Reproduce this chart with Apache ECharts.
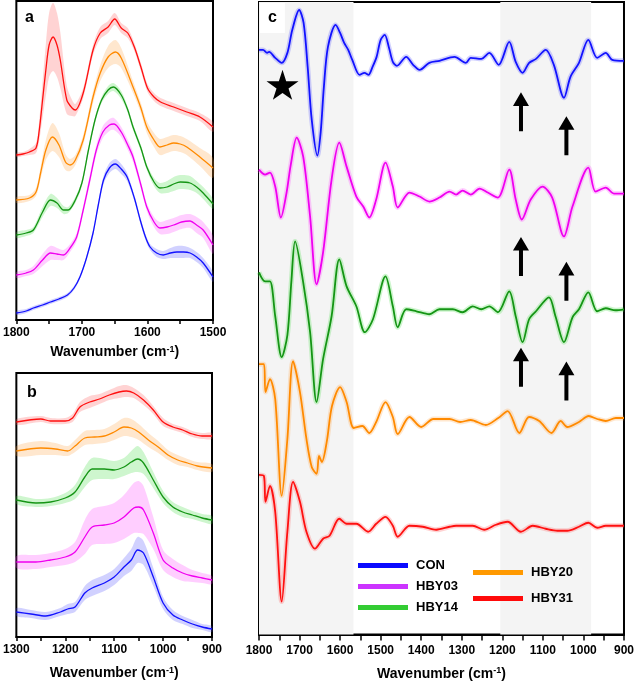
<!DOCTYPE html>
<html>
<head>
<meta charset="utf-8">
<script src="https://cdn.jsdelivr.net/npm/echarts@6/dist/echarts.min.js"></script>
<style>
  html, body { margin: 0; padding: 0; background: #fff; }
  #chart { width: 637px; height: 686px; }
</style>
</head>
<body>
<div id="chart"></div>
<script>
  // sample names / colours (CON, HBY03, HBY14, HBY20, HBY31)
  var names = ['CON', 'HBY03', 'HBY14', 'HBY20', 'HBY31']
  var lineColors = ['#1212ff', '#f000f0', '#159515', '#ff8a00', '#ff1010']
  var bandColors = ['rgba(70,70,255,0.25)', 'rgba(255,60,255,0.25)', 'rgba(60,220,60,0.25)', 'rgba(255,160,60,0.25)', 'rgba(255,80,80,0.25)']
  var legendColors = ['#0a0aff', '#cc33ff', '#33cc33', '#ff9900', '#ff0a0a']

  // panel a: 1800-1500 cm-1, [wavenumber, offset absorbance, sd]
  var aCon = [[1800,7,2],[1785,9,2],[1774,12,2],[1760,15,2],[1748,18,2],[1735,21,2],[1722,25,2],[1712,32,2],[1703,43,2],[1693,62,2],[1683,87,3],[1675,115,3],[1667,140,4],[1658,152,5],[1649,156,5],[1640,151,5],[1631,143,4],[1620,122,3],[1611,100,3],[1603,83,3],[1596,73,3],[1586,67,4],[1576,65,4],[1565,67,5],[1555,68,6],[1545,68,6],[1535,67,5],[1525,63,5],[1515,57,5],[1500,43,5]]
  var aHby03 = [[1800,45,3],[1785,47,3],[1774,50,4],[1760,60,6],[1748,67,7],[1738,66,6],[1728,65,5],[1718,72,4],[1708,83,4],[1698,110,4],[1688,140,5],[1678,170,5],[1668,188,6],[1658,195,6],[1651,196,6],[1640,188,5],[1630,175,5],[1622,163,5],[1610,135,4],[1601,113,4],[1590,98,5],[1581,92,6],[1570,93,7],[1560,95,7],[1548,98,7],[1535,99,7],[1525,95,8],[1515,90,8],[1500,75,9]]
  var aHby14 = [[1800,85,3],[1785,87,3],[1774,90,3],[1760,108,5],[1748,120,6],[1738,117,5],[1728,110,4],[1721,110,3],[1710,120,3],[1700,137,3],[1690,170,3],[1680,200,3],[1670,220,3],[1660,230,4],[1652,233,4],[1640,225,4],[1630,210,3],[1622,193,3],[1610,172,3],[1601,153,3],[1590,138,4],[1581,132,5],[1570,133,6],[1560,136,7],[1550,138,7],[1535,137,7],[1525,133,6],[1515,127,6],[1500,116,5]]
  var aHby20 = [[1800,120,3],[1780,122,3],[1770,128,4],[1763,147,6],[1755,170,10],[1745,183,14],[1735,175,12],[1725,158,8],[1718,155,6],[1710,160,5],[1698,180,5],[1683,223,6],[1672,247,8],[1660,263,11],[1649,268,12],[1640,262,10],[1622,233,6],[1610,212,5],[1601,193,6],[1590,180,7],[1581,173,8],[1570,175,8],[1560,177,8],[1550,176,8],[1540,173,8],[1520,163,9],[1500,152,10]]
  var aHby31 = [[1800,165,2],[1790,166,2],[1780,168,3],[1770,172,5],[1765,190,10],[1760,220,18],[1755,250,26],[1750,275,32],[1744,283,34],[1738,275,32],[1733,260,28],[1723,220,14],[1715,212,8],[1710,210,6],[1698,227,5],[1683,270,5],[1672,287,6],[1660,293,6],[1650,301,6],[1640,292,5],[1630,287,5],[1620,273,4],[1610,253,4],[1600,232,4],[1590,223,4],[1580,218,4],[1560,213,4],[1540,208,4],[1520,203,4],[1500,193,5]]

  // panel b: 1300-900 cm-1
  var bCon = [[1300,25,4],[1270,23,4],[1240,21,4],[1210,25,4],[1195,28,5],[1180,30,5],[1160,44,7],[1145,49,8],[1120,54,8],[1100,60,8],[1080,70,9],[1065,77,11],[1052,87,13],[1040,84,12],[1020,60,9],[1000,34,6],[980,22,5],[960,17,4],[940,13,4],[920,10,3],[900,8,3]]
  var bHby03 = [[1300,75,6],[1260,75,7],[1230,77,7],[1200,80,8],[1180,85,10],[1160,100,17],[1145,110,18],[1120,112,19],[1100,114,20],[1080,120,22],[1060,129,25],[1050,130,26],[1040,127,24],[1020,104,16],[1000,77,10],[980,69,9],[960,64,8],[940,61,6],[920,59,5],[900,57,4]]
  var bHby14 = [[1300,137,4],[1260,134,4],[1230,135,4],[1200,139,5],[1180,145,7],[1160,160,10],[1145,168,11],[1120,168,10],[1100,167,9],[1080,170,9],[1065,175,11],[1052,178,13],[1040,174,11],[1020,157,8],[1000,140,6],[980,130,5],[960,125,5],[940,122,4],[920,119,4],[900,117,4]]
  var bHby20 = [[1300,186,5],[1250,189,7],[1220,188,6],[1195,186,5],[1180,191,6],[1160,199,7],[1140,200,7],[1120,201,7],[1100,205,8],[1080,210,9],[1065,209,9],[1050,205,8],[1030,197,7],[1010,190,6],[990,182,5],[970,177,5],[950,174,4],[930,171,4],[900,169,4]]
  var bHby31 = [[1300,215,3],[1250,218,3],[1230,216,3],[1200,216,3],[1185,219,4],[1170,230,5],[1150,235,6],[1130,238,5],[1110,242,5],[1090,245,6],[1075,246,6],[1060,244,5],[1040,237,5],[1020,227,4],[1000,215,4],[980,210,3],[960,207,3],[940,203,3],[920,201,3],[900,201,3]]

  // panel c: second derivative, 1800-900 cm-1, [wavenumber, offset value]
  var cCon = [[1800,586],[1790,586],[1780,583],[1775,584],[1760,578],[1744,573],[1730,583],[1718,606],[1701,626],[1690,613],[1680,569],[1670,516],[1656,480],[1648,503],[1640,549],[1630,589],[1611,611],[1600,603],[1590,593],[1580,586],[1570,576],[1552,561],[1540,563],[1530,561],[1520,569],[1510,579],[1500,596],[1490,601],[1480,589],[1470,574],[1460,570],[1437,579],[1420,571],[1404,566],[1380,573],[1355,575],[1318,579],[1290,573],[1278,578],[1252,577],[1232,583],[1209,571],[1183,594],[1167,574],[1150,563],[1134,573],[1117,577],[1093,586],[1073,571],[1048,538],[1032,559],[1011,573],[988,596],[966,578],[945,583],[929,576],[900,575]]
  var cHby03 = [[1800,466],[1785,461],[1773,463],[1760,449],[1746,418],[1732,443],[1722,470],[1707,498],[1691,479],[1674,419],[1658,351],[1642,383],[1621,456],[1602,493],[1584,469],[1560,439],[1543,429],[1528,418],[1511,436],[1488,473],[1470,449],[1458,428],[1429,443],[1404,439],[1380,434],[1355,438],[1330,444],[1314,441],[1298,445],[1278,441],[1256,447],[1236,443],[1211,438],[1183,466],[1167,436],[1152,416],[1130,436],[1101,449],[1077,438],[1048,399],[1027,429],[988,468],[970,444],[945,448],[925,442],[900,442]]
  var cHby14 = [[1800,363],[1785,354],[1773,354],[1760,319],[1744,278],[1730,300],[1720,355],[1711,394],[1691,353],[1674,303],[1658,233],[1642,276],[1621,319],[1602,376],[1584,349],[1560,329],[1539,303],[1519,316],[1488,359],[1470,329],[1458,308],[1437,326],[1412,324],[1380,321],[1355,326],[1322,326],[1298,323],[1273,329],[1252,326],[1232,329],[1211,323],[1183,344],[1167,319],[1150,293],[1134,316],[1117,324],[1085,338],[1069,319],[1048,293],[1027,318],[1011,326],[988,343],[966,324],[945,327],[921,325],[900,326]]
  var cHby20 = [[1800,271],[1788,271],[1784,243],[1773,256],[1760,236],[1744,139],[1730,196],[1716,274],[1699,243],[1683,196],[1670,168],[1658,161],[1652,179],[1645,173],[1633,193],[1620,229],[1600,248],[1584,233],[1566,207],[1545,209],[1528,202],[1511,213],[1488,233],[1470,218],[1458,201],[1429,218],[1400,208],[1370,216],[1330,216],[1304,213],[1278,215],[1241,210],[1210,217],[1187,224],[1158,202],[1134,218],[1109,214],[1079,202],[1056,214],[1040,208],[1011,213],[987,219],[966,216],[945,214],[920,217],[900,217]]
  var cHby31 = [[1800,160],[1788,159],[1784,133],[1773,149],[1760,123],[1744,33],[1730,103],[1716,153],[1699,133],[1683,103],[1662,86],[1642,96],[1626,99],[1602,116],[1584,111],[1560,111],[1531,103],[1511,111],[1488,118],[1470,109],[1458,98],[1429,109],[1396,108],[1363,105],[1330,108],[1314,109],[1273,109],[1245,105],[1216,110],[1187,113],[1154,103],[1125,109],[1093,106],[1064,104],[1040,104],[1011,108],[988,112],[966,107],[945,109],[900,109]]

  // annotations in panel c
  var cShade = [[1800, 1567], [1205, 981]]
  var cStar = [[1742, 551]]
  var cArrows = [[1154, 524], [1042, 500], [1154, 379], [1042, 354], [1154, 268], [1042, 254]]

  var panelA = [aCon, aHby03, aHby14, aHby20, aHby31]
  var panelB = [bCon, bHby03, bHby14, bHby20, bHby31]
  var panelC = [cCon, cHby03, cHby14, cHby20, cHby31]

  var tickFont = { color: '#000', fontWeight: 'bold', fontSize: 12, fontFamily: 'Arial' }

  function xAxisFor (idx, min, max, margin, nameGap, tickLen) {
    return {
      type: 'value',
      gridIndex: idx,
      inverse: true,
      min: min,
      max: max,
      interval: 100,
      axisLine: { show: true, onZero: false, lineStyle: { color: '#000', width: 2 } },
      axisTick: { show: true, length: tickLen, lineStyle: { color: '#000', width: 1.5 } },
      minorTick: { show: true, splitNumber: 2, length: tickLen, lineStyle: { color: '#000', width: 1.5 } },
      splitLine: { show: false },
      axisLabel: Object.assign({ margin: margin, formatter: function (v) { return String(v) } }, tickFont),
      name: '{t|Wavenumber (cm}{s|-1}{t|)}',
      nameLocation: 'middle',
      nameGap: nameGap,
      nameTextStyle: {
        rich: {
          t: { fontSize: 14, fontWeight: 'bold', color: '#000', fontFamily: 'Arial' },
          s: { fontSize: 9, fontWeight: 'bold', color: '#000', fontFamily: 'Arial', verticalAlign: 'top', padding: [0, 0, 6, 0] }
        }
      }
    }
  }

  function yAxisFor (idx, max) {
    return { type: 'value', gridIndex: idx, min: 0, max: max, show: false }
  }

  // sd band drawn as a closed polygon through the axis scales
  function bandSeries (pts, color, idx) {
    return {
      type: 'custom',
      xAxisIndex: idx,
      yAxisIndex: idx,
      silent: true,
      z: 2,
      data: [[pts[0][0], pts[0][1]]],
      renderItem: function (params, api) {
        var upper = pts.map(function (p) { return api.coord([p[0], p[1] + p[2]]) })
        var lower = pts.slice().reverse().map(function (p) { return api.coord([p[0], p[1] - p[2]]) })
        return {
          type: 'polygon',
          shape: { points: upper.concat(lower), smooth: 0.3 },
          style: { fill: color }
        }
      }
    }
  }

  function lineSeries (name, pts, color, idx, width) {
    return {
      name: name,
      type: 'line',
      xAxisIndex: idx,
      yAxisIndex: idx,
      data: pts.map(function (p) { return [p[0], p[1]] }),
      showSymbol: false,
      smooth: 0.3,
      z: 3,
      lineStyle: { color: color, width: width },
      itemStyle: { color: color }
    }
  }

  var series = []
  panelA.forEach(function (pts, i) {
    series.push(bandSeries(pts, bandColors[i], 0))
    series.push(lineSeries(names[i], pts, lineColors[i], 0, 1.3))
  })
  panelB.forEach(function (pts, i) {
    series.push(bandSeries(pts, bandColors[i], 1))
    series.push(lineSeries(names[i], pts, lineColors[i], 1, 1.3))
  })
  panelC.forEach(function (pts, i) {
    // faint halo for the sd of the derivative spectra
    var halo = {
      type: 'line',
      xAxisIndex: 2,
      yAxisIndex: 2,
      data: pts,
      showSymbol: false,
      smooth: 0.3,
      silent: true,
      z: 2,
      lineStyle: { color: bandColors[i], width: 5 }
    }
    if (i === 0) {
      halo.markArea = {
        silent: true,
        itemStyle: { color: '#f4f4f4' },
        data: cShade.map(function (r) { return [{ xAxis: r[0] }, { xAxis: r[1] }] })
      }
    }
    series.push(halo)
    series.push(lineSeries(names[i], pts, lineColors[i], 2, 1.8))
  })
  series.push({
    type: 'scatter',
    xAxisIndex: 2,
    yAxisIndex: 2,
    data: cStar,
    symbol: 'path://M50,0 L61,35 L98,35 L68,57 L79,91 L50,70 L21,91 L32,57 L2,35 L39,35 Z',
    symbolSize: [32, 30],
    itemStyle: { color: '#000', opacity: 1 },
    z: 4
  })
  series.push({
    type: 'scatter',
    xAxisIndex: 2,
    yAxisIndex: 2,
    data: cArrows,
    symbol: 'path://M8,0 L16,14 L10,14 L10,40 L6,40 L6,14 L0,14 Z',
    symbolSize: [16, 39],
    itemStyle: { color: '#000', opacity: 1 },
    z: 4
  })

  function legendData (list) {
    return list.map(function (i) { return { name: names[i], itemStyle: { color: legendColors[i] } } })
  }
  var legendText = { color: '#000', fontWeight: 'bold', fontSize: 13, fontFamily: 'Arial', lineHeight: 15, padding: [0, 0, 0, 3] }

  var option = {
    animation: false,
    backgroundColor: '#fff',
    grid: [
      { left: 16, top: 1, width: 197, height: 319, show: true, borderColor: '#000', borderWidth: 2, backgroundColor: 'transparent' },
      { left: 15, top: 373, width: 197, height: 264, show: true, borderColor: '#000', borderWidth: 2, backgroundColor: 'transparent' },
      { left: 259, top: 2, width: 366, height: 634, show: true, borderColor: '#000', borderWidth: 2, backgroundColor: 'transparent' }
    ],
    xAxis: [
      xAxisFor(0, 1500, 1800, 7, 25, 4),
      xAxisFor(1, 900, 1300, 7, 29, 4),
      xAxisFor(2, 900, 1800, 10, 32, 6)
    ],
    yAxis: [yAxisFor(0, 319), yAxisFor(1, 264), yAxisFor(2, 634)],
    legend: [
      { left: 353, top: 553, orient: 'vertical', icon: 'rect', itemWidth: 50, itemHeight: 5, itemGap: 6, selectedMode: false, textStyle: legendText, data: legendData([0, 1, 2]) },
      { left: 468, top: 560, orient: 'vertical', icon: 'rect', itemWidth: 50, itemHeight: 5, itemGap: 11, selectedMode: false, textStyle: legendText, data: legendData([3, 4]) }
    ],
    graphic: [
      { type: 'text', left: 25, top: 10, z: 10, style: { text: 'a', font: 'bold 16px Arial', fill: '#000' } },
      { type: 'text', left: 27, top: 385, z: 10, style: { text: 'b', font: 'bold 16px Arial', fill: '#000' } },
      { type: 'text', left: 260, top: 3, z: 10, style: { text: 'c', font: 'bold 16px Arial', fill: '#000', backgroundColor: '#fff', padding: [7, 8, 7, 8] } }
    ],
    series: series
  }

  var chart = echarts.init(document.getElementById('chart'))
  chart.setOption(option)
</script>
</body>
</html>
